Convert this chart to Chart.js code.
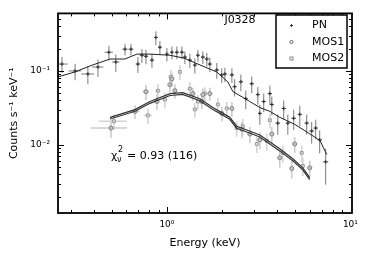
<!DOCTYPE html>
<html>
<head>
<meta charset="utf-8">
<script src="https://cdn.jsdelivr.net/npm/chart.js@4.4.1/dist/chart.umd.min.js"></script>
<style>
  html, body { margin: 0; padding: 0; background: #fff; }
</style>
</head>
<body>
<canvas id="myChart" width="368" height="260"></canvas>
<script>
// tick labels
const xTickVals = [1, 10];
const xTickLabels = ['10⁰', '10¹'];
const yTickVals = [0.01, 0.1];
const yTickLabels = ['10⁻²', '10⁻¹'];

// PN spectrum (energy keV, counts/s/keV, half widths)
const pnE  = [0.268, 0.316, 0.371, 0.421, 0.483, 0.527, 0.591, 0.637, 0.695, 0.731, 0.769, 0.829, 0.871, 0.916, 1.0, 1.065, 1.133, 1.207, 1.253, 1.334, 1.42, 1.475, 1.57, 1.65, 1.714, 1.87, 1.99, 2.07, 2.26, 2.34, 2.53, 2.69, 2.9, 3.13, 3.21, 3.37, 3.64, 3.73, 4.02, 4.33, 4.56, 4.91, 5.3, 5.78, 6.15, 6.47, 6.8, 7.33];
const pnC  = [0.124, 0.100, 0.091, 0.113, 0.179, 0.132, 0.197, 0.197, 0.124, 0.163, 0.158, 0.140, 0.284, 0.209, 0.169, 0.179, 0.179, 0.179, 0.154, 0.140, 0.120, 0.163, 0.154, 0.145, 0.124, 0.103, 0.0885, 0.091, 0.0885, 0.0612, 0.0714, 0.0423, 0.0671, 0.0479, 0.0267, 0.0386, 0.0494, 0.0352, 0.0197, 0.0311, 0.0197, 0.0229, 0.0259, 0.0197, 0.0154, 0.0169, 0.0117, 0.0059];
const pnDx = [0.02, 0.025, 0.03, 0.03, 0.025, 0.025, 0.02, 0.02, 0.02, 0.02, 0.02, 0.02, 0.02, 0.02, 0.02, 0.02, 0.03, 0.03, 0.03, 0.03, 0.03, 0.03, 0.04, 0.04, 0.04, 0.05, 0.05, 0.05, 0.06, 0.06, 0.07, 0.07, 0.08, 0.08, 0.08, 0.09, 0.1, 0.1, 0.12, 0.12, 0.12, 0.14, 0.15, 0.16, 0.18, 0.18, 0.2, 0.25];
const pnDy = [0.03, 0.025, 0.025, 0.03, 0.04, 0.035, 0.035, 0.035, 0.03, 0.035, 0.035, 0.03, 0.06, 0.045, 0.035, 0.035, 0.035, 0.035, 0.03, 0.03, 0.028, 0.03, 0.03, 0.03, 0.028, 0.025, 0.02, 0.02, 0.02, 0.016, 0.018, 0.012, 0.017, 0.013, 0.008, 0.011, 0.014, 0.01, 0.006, 0.009, 0.006, 0.007, 0.008, 0.006, 0.005, 0.005, 0.004, 0.003];

// MOS1 spectrum
const mos1E  = [0.496, 0.67, 0.769, 0.882, 1.038, 1.065, 1.105, 1.385, 1.714, 1.55, 1.57, 1.99, 2.26, 2.56, 2.83, 3.21, 3.73, 4.12, 4.97, 4.79, 6.0];
const mos1C  = [0.0169, 0.0284, 0.0525, 0.0386, 0.065, 0.0782, 0.0541, 0.0494, 0.0494, 0.0386, 0.0479, 0.0267, 0.0311, 0.0163, 0.014, 0.0117, 0.014, 0.0067, 0.0103, 0.0048, 0.0049];
const mos1Dx = [0.11, 0.04, 0.03, 0.03, 0.03, 0.03, 0.03, 0.04, 0.04, 0.04, 0.04, 0.05, 0.06, 0.07, 0.08, 0.09, 0.1, 0.12, 0.15, 0.14, 0.2];
const mos1Dy = [0.0045, 0.006, 0.012, 0.009, 0.014, 0.016, 0.012, 0.01, 0.01, 0.008, 0.01, 0.006, 0.007, 0.004, 0.0035, 0.003, 0.0035, 0.0018, 0.0025, 0.0013, 0.0012];

// MOS2 spectrum
const mos2E  = [0.515, 0.788, 0.893, 0.975, 1.05, 1.177, 1.334, 1.61, 1.42, 1.475, 1.895, 2.12, 2.4, 2.59, 3.09, 3.5, 3.64, 4.28, 5.43, 5.5];
const mos2C  = [0.0209, 0.0251, 0.0541, 0.041, 0.0832, 0.097, 0.0575, 0.0494, 0.0302, 0.0386, 0.0352, 0.0311, 0.0169, 0.0179, 0.0103, 0.0113, 0.0216, 0.0078, 0.0078, 0.0052];
const mos2Dx = [0.09, 0.04, 0.03, 0.03, 0.03, 0.03, 0.04, 0.04, 0.04, 0.04, 0.05, 0.06, 0.06, 0.07, 0.08, 0.09, 0.1, 0.12, 0.15, 0.15];
const mos2Dy = [0.005, 0.006, 0.012, 0.01, 0.02, 0.022, 0.013, 0.011, 0.007, 0.009, 0.008, 0.007, 0.004, 0.0045, 0.0025, 0.003, 0.005, 0.002, 0.002, 0.0014];

// fitted models
const pnModelE = [0.255, 0.316, 0.381, 0.49, 0.59, 0.687, 0.808, 1.04, 1.24, 1.61, 1.87, 2.15, 2.29, 2.44, 2.83, 3.21, 3.64, 4.12, 4.97, 5.9, 6.64, 6.8, 7.43];
const pnModelC = [0.0832, 0.097, 0.117, 0.145, 0.145, 0.169, 0.169, 0.163, 0.149, 0.113, 0.097, 0.071, 0.0525, 0.048, 0.0386, 0.032, 0.0284, 0.0236, 0.019, 0.0145, 0.012, 0.0117, 0.0074];
const mosModelE = [0.49, 0.67, 0.808, 1.04, 1.22, 1.51, 1.78, 2.02, 2.2, 2.4, 2.66, 3.21, 4.12, 4.85, 5.5, 6.0];
const mos1ModelC = [0.0236, 0.030, 0.0386, 0.0494, 0.051, 0.042, 0.032, 0.0267, 0.0236, 0.0179, 0.0163, 0.0136, 0.00885, 0.0065, 0.0049, 0.0036];
const mos2ModelC = [0.0224, 0.0285, 0.0365, 0.0466, 0.0482, 0.0396, 0.0302, 0.0252, 0.0222, 0.0168, 0.0153, 0.0128, 0.0083, 0.0061, 0.0046, 0.0034];

const pts = (xs, ys) => xs.map((v, i) => ({x: v, y: ys[i]}));

const errorBars = {
  id: 'errorBars',
  beforeDatasetsDraw(chart) {
    const {ctx, chartArea: a, scales: {x, y}} = chart;
    ctx.save();
    ctx.beginPath();
    ctx.rect(a.left, a.top, a.right - a.left, a.bottom - a.top);
    ctx.clip();
    chart.data.datasets.slice().reverse().forEach(ds => {
      if (!ds.xErr) return;
      ctx.strokeStyle = ds.errColor;
      ctx.lineWidth = ds.errWidth;
      ds.data.forEach((p, i) => {
        const px = x.getPixelForValue(p.x), py = y.getPixelForValue(p.y);
        const x0 = x.getPixelForValue(p.x - ds.xErr[i]), x1 = x.getPixelForValue(p.x + ds.xErr[i]);
        const y0 = y.getPixelForValue(Math.max(p.y - ds.yErr[i], 1e-4)), y1 = y.getPixelForValue(p.y + ds.yErr[i]);
        ctx.beginPath();
        ctx.moveTo(x0, py); ctx.lineTo(x1, py);
        ctx.moveTo(px, y0); ctx.lineTo(px, y1);
        ctx.stroke();
      });
    });
    ctx.restore();
  }
};

const frame = {
  id: 'frame',
  afterDraw(chart) {
    const {ctx, chartArea: a, scales: {x, y}} = chart;
    ctx.save();
    ctx.strokeStyle = '#000';
    ctx.lineWidth = 1;
    ctx.beginPath();
    // x ticks, inward on bottom and top
    [0.1, 1].forEach(d => {
      for (let k = 1; k <= 9; k++) {
        const v = k * d;
        if (v < x.min || v > x.max) continue;
        const px = Math.round(x.getPixelForValue(v)) + 0.5;
        const len = k === 1 ? 6 : 3;
        ctx.moveTo(px, a.bottom); ctx.lineTo(px, a.bottom - len);
        ctx.moveTo(px, a.top); ctx.lineTo(px, a.top + len);
      }
    });
    [0.001, 0.01, 0.1].forEach(d => {
      for (let k = 1; k <= 9; k++) {
        const v = k * d;
        if (v < y.min || v > y.max) continue;
        const py = Math.round(y.getPixelForValue(v)) + 0.5;
        const len = k === 1 ? 6 : 3;
        ctx.moveTo(a.left, py); ctx.lineTo(a.left + len, py);
        ctx.moveTo(a.right, py); ctx.lineTo(a.right - len, py);
      }
    });
    ctx.stroke();
    ctx.lineWidth = 1.8;
    ctx.strokeRect(a.left, a.top, a.right - a.left, a.bottom - a.top);

    // legend
    ctx.fillStyle = '#fff';
    ctx.fillRect(276, 15, 71, 53);
    ctx.lineWidth = 1.5;
    ctx.strokeRect(276, 15, 71, 53);
    ctx.font = '11px "DejaVu Sans"';
    ctx.textBaseline = 'middle';
    ctx.fillStyle = '#000';
    ctx.fillText('PN', 312, 25);
    ctx.fillText('MOS1', 312, 42);
    ctx.fillText('MOS2', 312, 58);
    ctx.lineWidth = 1;
    ctx.strokeStyle = '#333';
    ctx.beginPath();
    ctx.moveTo(290, 25.5); ctx.lineTo(293, 25.5);
    ctx.moveTo(291.5, 24); ctx.lineTo(291.5, 27);
    ctx.stroke();
    ctx.strokeStyle = '#666';
    ctx.beginPath();
    ctx.arc(291.5, 42, 1.6, 0, Math.PI * 2);
    ctx.stroke();
    ctx.strokeStyle = '#888';
    ctx.strokeRect(290, 57, 3, 3);

    // annotations
    ctx.fillStyle = '#000';
    ctx.textAlign = 'center';
    ctx.fillText('J0328', 240, 20);
    ctx.textAlign = 'left';
    ctx.fillText('χ', 111, 156);
    ctx.font = '8px "DejaVu Sans"';
    ctx.fillText('2', 118, 150);
    ctx.fillText('ν', 117, 160);
    ctx.font = '11px "DejaVu Sans"';
    ctx.fillText('= 0.93 (116)', 127, 156);
    ctx.restore();
  }
};

new Chart(document.getElementById('myChart'), {
  type: 'scatter',
  data: {
    datasets: [
      {type: 'line', label: 'PN model', data: pts(pnModelE, pnModelC), borderColor: '#222', borderWidth: 1, pointRadius: 0, order: 0},
      {type: 'line', label: 'MOS1 model', data: pts(mosModelE, mos1ModelC), borderColor: '#333', borderWidth: 1.2, pointRadius: 0, order: 0},
      {type: 'line', label: 'MOS2 model', data: pts(mosModelE, mos2ModelC), borderColor: '#333', borderWidth: 1.2, pointRadius: 0, order: 0},
      {label: 'PN', data: pts(pnE, pnC), xErr: pnDx, yErr: pnDy, errColor: '#7a7a7a', errWidth: 1,
       pointStyle: 'cross', pointRadius: 1.8, borderColor: '#333', borderWidth: 1, order: 1},
      {label: 'MOS1', data: pts(mos1E, mos1C), xErr: mos1Dx, yErr: mos1Dy, errColor: '#ccc', errWidth: 1.6,
       pointStyle: 'circle', pointRadius: 2, borderColor: '#808080', backgroundColor: '#c4c4c4', borderWidth: 1, order: 2},
      {label: 'MOS2', data: pts(mos2E, mos2C), xErr: mos2Dx, yErr: mos2Dy, errColor: '#d4d4d4', errWidth: 1.6,
       pointStyle: 'rect', pointRadius: 2, borderColor: '#999', backgroundColor: '#ddd', borderWidth: 1, order: 3}
    ]
  },
  options: {
    responsive: false,
    animation: false,
    layout: {padding: {left: 0, top: 10, right: 16, bottom: 0}},
    plugins: {legend: {display: false}, tooltip: {enabled: false}},
    scales: {
      x: {
        type: 'logarithmic', min: 0.255, max: 10.2,
        grid: {display: false, drawTicks: false},
        border: {display: false},
        afterBuildTicks: s => { s.ticks = xTickVals.map(v => ({value: v})); },
        afterFit: s => { s.height = 47; },
        ticks: {
          padding: 6, color: '#000', font: {family: 'DejaVu Sans', size: 9},
          autoSkip: false, maxRotation: 0,
          callback: v => xTickLabels[xTickVals.indexOf(v)]
        },
        title: {display: true, text: 'Energy (keV)', color: '#000', font: {family: 'DejaVu Sans', size: 11}, padding: {top: 0, bottom: 10}}
      },
      y: {
        type: 'logarithmic', min: 0.0012, max: 0.6,
        grid: {display: false, drawTicks: false},
        border: {display: false},
        afterBuildTicks: s => { s.ticks = yTickVals.map(v => ({value: v})); },
        afterFit: s => { s.width = 58; },
        ticks: {
          padding: 8, color: '#000', font: {family: 'DejaVu Sans', size: 9},
          autoSkip: false,
          callback: v => yTickLabels[yTickVals.indexOf(v)]
        },
        title: {display: true, text: 'Counts s⁻¹ keV⁻¹', color: '#000', font: {family: 'DejaVu Sans', size: 11}, padding: {top: 8, bottom: 0}}
      }
    }
  },
  plugins: [errorBars, frame]
});
</script>
</body>
</html>
